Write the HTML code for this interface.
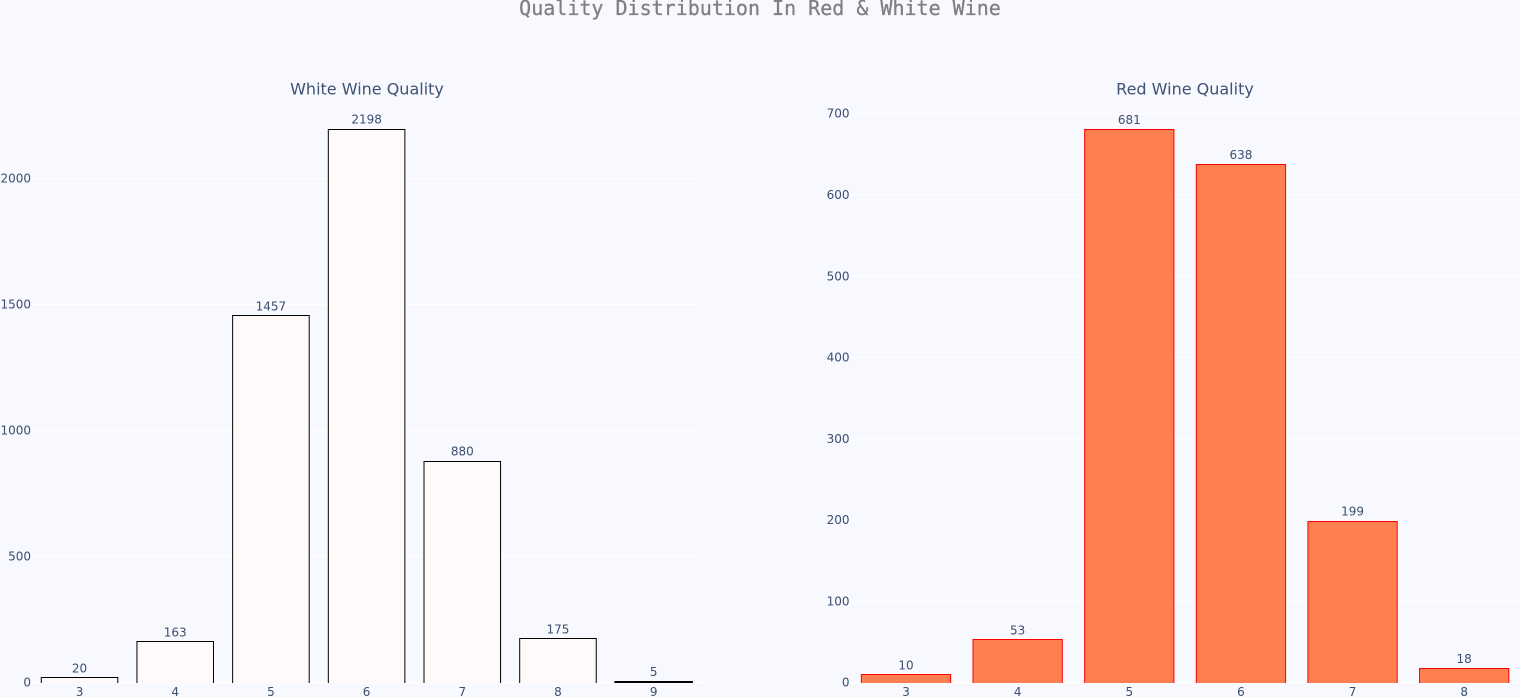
<!DOCTYPE html>
<html>
<head>
<meta charset="utf-8">
<style>
html,body{margin:0;padding:0;background:#f8f9ff;width:1520px;height:697px;overflow:hidden}
svg{display:block}
text{font-family:"DejaVu Sans","Liberation Sans",sans-serif;fill:#3b4e70}
</style>
</head>
<body>
<svg id="chart" width="1520" height="697" viewBox="0 0 1520 697" xmlns="http://www.w3.org/2000/svg">
<rect x="0" y="0" width="1520" height="697" fill="#f8f9ff"/>
<text x="760" y="15" text-anchor="middle" font-size="20" stroke="#808080" stroke-width="0.3" style="font-family:'DejaVu Sans Mono','Liberation Mono',monospace;fill:#808080">Quality Distribution In Red &amp; White Wine</text>
<text x="367" y="94.5" text-anchor="middle" font-size="16" style="fill:#3f5274">White Wine Quality</text>
<text x="1185" y="94.5" text-anchor="middle" font-size="16" style="fill:#3f5274">Red Wine Quality</text>
<g id="white-panel"></g>
<g id="red-panel"></g>
</svg>
<script>
const whiteCategories = ['3', '4', '5', '6', '7', '8', '9'];
const whiteValues = [20, 163, 1457, 2198, 880, 175, 5];
const whiteTicks = [0, 500, 1000, 1500, 2000];
const redCategories = ['3', '4', '5', '6', '7', '8'];
const redValues = [10, 53, 681, 638, 199, 18];
const redTicks = [0, 100, 200, 300, 400, 500, 600, 700];

const NS = 'http://www.w3.org/2000/svg';

function makeEl(tag, attrs, parent) {
  const el = document.createElementNS(NS, tag);
  for (const k in attrs) el.setAttribute(k, attrs[k]);
  parent.appendChild(el);
  return el;
}

function drawPanel(parent, cats, vals, ticks, box, yMax, fill, stroke) {
  const xStep = (box.right - box.left) / cats.length;
  const xScale = i => box.left + xStep * (i + 0.5);
  const yScale = v => box.bottom - (v / yMax) * (box.bottom - box.top);

  ticks.forEach(t => {
    const y = yScale(t);
    const grid = makeEl('line', {
      x1: box.left, x2: box.right, y1: y, y2: y,
      stroke: '#ffffff', 'stroke-width': t === 0 ? 2 : 1
    }, parent);
    
    
    const label = makeEl('text', {
      x: box.left - 0.7, y: y + 4.2, 'text-anchor': 'end', 'font-size': 12
    }, parent);
    label.textContent = String(t);
    
    
  });

  cats.forEach((c, i) => {
    const w = xStep * 0.8;
    const x = xScale(i) - w / 2;
    const y = yScale(vals[i]);
    const thin = box.bottom - y < 2;
    const top = thin ? Math.round(y) + 1 : Math.round(y) + 0.5;
    const base = box.bottom + 0.5;
    const bar = makeEl('path', {
      d: 'M' + x + ' ' + base + 'V' + top + 'H' + (x + w) + 'V' + base,
      fill: fill, stroke: stroke, 'stroke-width': thin ? 2 : 1
    }, parent);
    
    

    const value = makeEl('text', {
      x: xScale(i), y: y - 5, 'text-anchor': 'middle', 'font-size': 12
    }, parent);
    value.textContent = String(vals[i]);
    
    

    const tick = makeEl('text', {
      x: xScale(i), y: box.bottom + 13.5, 'text-anchor': 'middle', 'font-size': 12
    }, parent);
    tick.textContent = c;
    
    
  });
}

drawPanel(document.getElementById('white-panel'), whiteCategories, whiteValues, whiteTicks,
  {left: 31.7, right: 701.5, top: 128.6, bottom: 682.5}, 2198, '#fffafa', '#000000');
drawPanel(document.getElementById('red-panel'), redCategories, redValues, redTicks,
  {left: 850.2, right: 1520, top: 113.5, bottom: 682.5}, 700, '#ff7f50', '#ff0000');
</script>
</body>
</html>
